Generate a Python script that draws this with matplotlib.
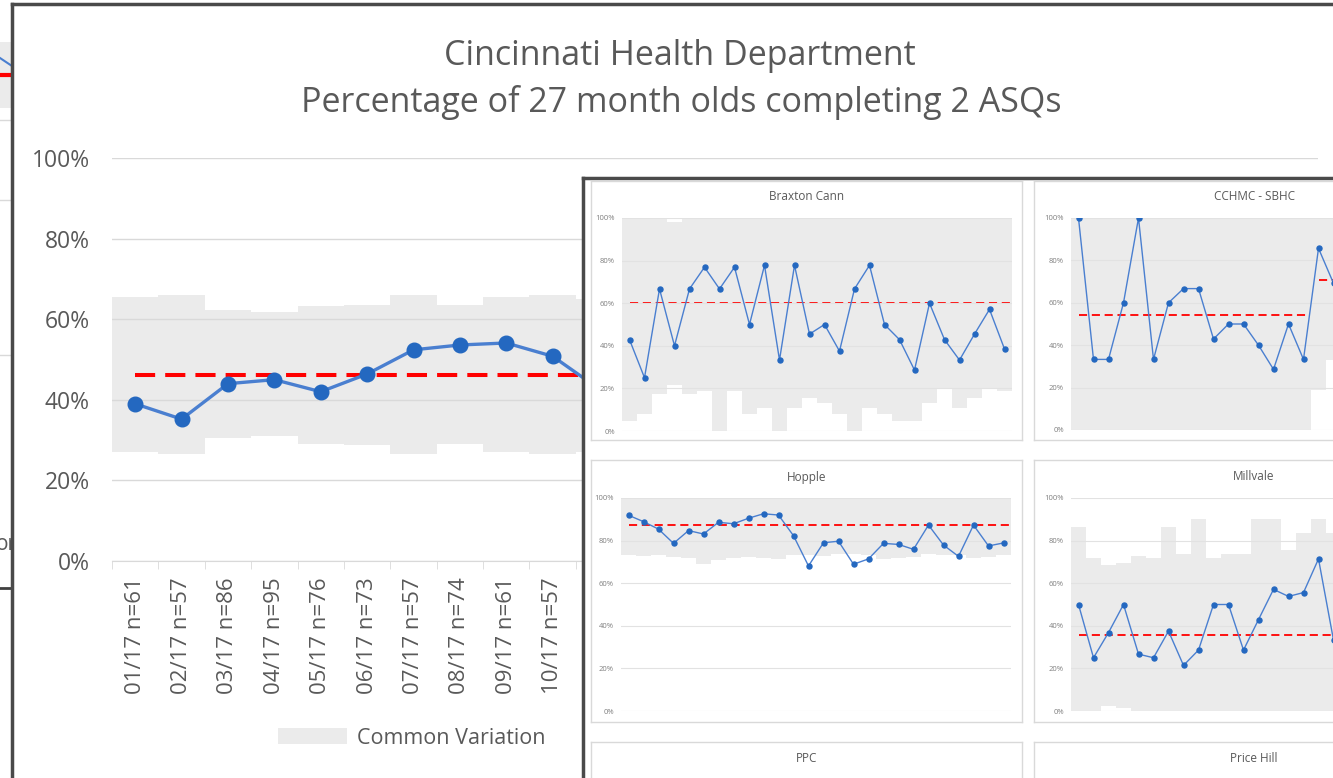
import numpy as np
import matplotlib
matplotlib.use('Agg')
import matplotlib.pyplot as plt
from matplotlib.patches import Rectangle

plt.rcParams['font.family'] = ['Open Sans', 'DejaVu Sans']

W, H = 1333, 778

# ---- main chart (only the part not hidden behind the small multiples)
main_labels = ['01/17 n=61', '02/17 n=57', '03/17 n=86', '04/17 n=95', '05/17 n=76',
               '06/17 n=73', '07/17 n=57', '08/17 n=74', '09/17 n=61', '10/17 n=57']
main_pct = [39.0, 35.2, 44.0, 45.0, 42.0, 46.4, 52.4, 53.6, 54.1, 50.8, 42.7]
main_ucl = [65.4, 65.9, 62.3, 61.8, 63.3, 63.6, 66.0, 63.6, 65.4, 66.0, 65.0]
main_lcl = [27.1, 26.5, 30.5, 31.0, 29.0, 28.7, 26.5, 29.0, 27.1, 26.5, 27.1]
main_center = 46.2
n_months = 26

# ---- small multiples
braxton_pct = [42.9, 25.0, 66.7, 40.0, 66.7, 76.9, 66.7, 76.9, 50.0, 77.8, 33.3, 77.8, 45.5,
               50.0, 37.5, 66.7, 77.8, 50.0, 42.9, 28.6, 60.0, 42.9, 33.3, 45.5, 57.1, 38.5]
braxton_ucl = [100, 100, 100, 98.0, 100, 100, 100, 100, 100, 100, 100, 100, 100,
               100, 100, 100, 100, 100, 100, 100, 100, 99.5, 100, 100, 99.5, 100]
braxton_lcl = [4.7, 8.2, 17.4, 21.8, 17.4, 19.0, 0, 19.0, 8.2, 10.7, 0, 10.7, 15.4,
               13.3, 8.2, 0, 10.7, 8.2, 4.7, 4.7, 13.3, 20.4, 10.7, 15.4, 20.4, 19.0]
braxton_phase_end = [26]
braxton_phase_cl = [60.0]

cchmc_pct = [100, 33.3, 33.3, 60.0, 100, 33.3, 60.0, 66.7, 66.7, 42.9, 50.0, 50.0,
             40.0, 28.6, 50.0, 33.3, 85.7, 69.2]
cchmc_ucl = [100, 100, 100, 100, 100, 100, 100, 100, 100, 100, 100, 100,
             100, 100, 100, 100, 100, 100]
cchmc_lcl = [0, 0, 0, 0, 0, 0, 0, 0, 0, 0, 0, 0, 0, 0, 0, 0, 19.1, 32.9]
cchmc_phase_end = [16, 18]
cchmc_phase_cl = [54.2, 70.9]

hopple_pct = [91.9, 88.9, 85.4, 78.7, 84.7, 83.1, 88.6, 87.9, 90.5, 92.6, 92.0, 82.3, 68.1,
              79.0, 79.7, 68.9, 71.4, 78.7, 78.2, 75.9, 87.3, 77.9, 72.6, 87.3, 77.5, 78.9]
hopple_ucl = [100, 100, 100, 100, 100, 100, 100, 100, 100, 100, 100, 100, 100,
              100, 100, 100, 100, 100, 100, 100, 100, 100, 100, 100, 100, 100]
hopple_lcl = [73.4, 72.6, 73.1, 72.3, 71.8, 69.2, 71.0, 71.8, 72.3, 71.8, 71.4, 73.4, 73.4,
              72.9, 73.9, 73.6, 73.4, 71.4, 71.8, 72.3, 73.9, 73.4, 73.1, 71.8, 72.3, 73.4]
hopple_phase_end = [26]
hopple_phase_cl = [87.5]

millvale_pct = [50.0, 25.0, 36.8, 50.0, 26.7, 25.0, 37.5, 21.4, 28.6, 50.0, 50.0, 28.6,
                42.9, 57.1, 53.8, 55.6, 71.4, 33.3]
millvale_ucl = [86.5, 71.6, 68.6, 69.4, 72.7, 71.6, 86.5, 73.9, 90.1, 71.6, 73.9, 73.9,
                90.1, 90.1, 75.7, 83.7, 90.1, 83.7]
millvale_lcl = [0, 0, 2.4, 1.6, 0, 0, 0, 0, 0, 0, 0, 0, 0, 0, 0, 0, 0, 0]
millvale_phase_end = [18]
millvale_phase_cl = [35.8]

BAND = '#ebebeb'
GRID = '#d9d9d9'
TXT = '#595959'
BLUE_LINE = '#4a7fd0'
BLUE_DOT = '#2468c0'
RED = '#ff0000'


def px_box(x0, y0, x1, y1):
    return [x0 / W, 1 - y1 / H, (x1 - x0) / W, (y1 - y0) / H]


def blank(ax):
    ax.set_xticks([])
    ax.set_yticks([])
    ax.set_xlim(0, 1)
    ax.set_ylim(0, 1)


fig = plt.figure(figsize=(W / 100, H / 100), dpi=100)

# window behind everything (left sliver)
bg = fig.add_axes([0, 0, 1, 1])
blank(bg)
for s in bg.spines.values():
    s.set_visible(False)
bg.add_patch(Rectangle((0, 1 - 108 / H), 12 / W, 66 / H, color=BAND, lw=0))
bg.plot([0, 12 / W], [1 - 58 / H, 1 - 66 / H], color=BLUE_LINE, lw=1.5)
bg.plot([0, 10 / W], [1 - 75 / H, 1 - 75 / H], color=RED, lw=3)
for yy in [120, 200, 355]:
    bg.plot([0, 10 / W], [1 - yy / H, 1 - yy / H], color=GRID, lw=1)
bg.plot([0, 12 / W], [1 - 588 / H, 1 - 588 / H], color='#404040', lw=2)
bg.text(-4 / W, 1 - 545 / H, 'or', fontsize=15, color=TXT, va='center', ha='left')

# main window frame
frame = fig.add_axes(px_box(12, 4, 1345, 790))
blank(frame)
frame.set_facecolor('white')
for k in ['right', 'bottom']:
    frame.spines[k].set_visible(False)
for k in ['left', 'top']:
    frame.spines[k].set_color('#4a4a4a')
    frame.spines[k].set_linewidth(2.5)

fig.text(680 / W, 1 - 56 / H, 'Cincinnati Health Department', fontsize=24.5,
         color=TXT, ha='center', va='center')
fig.text(681 / W, 1 - 102 / H, 'Percentage of 27 month olds completing 2 ASQs',
         fontsize=24.5, color=TXT, ha='center', va='center')

ax = fig.add_axes(px_box(112, 158, 1318, 561))
ax.set_facecolor('none')
x_main = np.arange(len(main_pct))
ax.bar(x_main, np.subtract(main_ucl, main_lcl), bottom=main_lcl, width=1.0,
       color=BAND, lw=0, label='Common Variation', zorder=1)
ax.hlines(main_center, 0, n_months - 1, colors=RED, lw=2.9,
          linestyles=(0, (5, 2.5)), zorder=2)
ax.plot(x_main, main_pct, color=BLUE_LINE, lw=2.4, marker='o', ms=10.5,
        mfc=BLUE_DOT, mec=BLUE_DOT, zorder=3)
ax.set_xlim(-0.5, n_months - 0.5)
ax.set_ylim(0, 100)
ax.set_yticks(np.arange(0, 101, 20))
ax.set_yticklabels([f'{v}%' for v in range(0, 101, 20)])
ax.set_axisbelow(False)
ax.yaxis.grid(True, color=GRID, lw=1)
ax.set_xticks(np.arange(len(main_labels)))
ax.set_xticklabels(main_labels, rotation=90)
ax.set_xticks(np.arange(-0.5, n_months, 1), minor=True)
ax.tick_params(axis='y', length=0, pad=16, labelsize=16.5, labelcolor=TXT)
ax.tick_params(axis='x', which='major', length=0, pad=12, labelsize=16, labelcolor=TXT)
ax.tick_params(axis='x', which='minor', length=6, color=GRID)
for k in ['left', 'right', 'top']:
    ax.spines[k].set_visible(False)
ax.spines['bottom'].set_color(GRID)
ax.legend(loc='center', bbox_to_anchor=(412 / W, 1 - 738 / H),
          bbox_transform=fig.transFigure, frameon=False, fontsize=15.5,
          handlelength=3.2, handleheight=0.8, handletextpad=0.45, labelcolor=TXT)

# overlay with the small multiples
ov = fig.add_axes(px_box(583, 178, 1345, 790))
blank(ov)
ov.set_facecolor('white')
for k in ['right', 'bottom']:
    ov.spines[k].set_visible(False)
for k in ['left', 'top']:
    ov.spines[k].set_color('#4a4a4a')
    ov.spines[k].set_linewidth(2.5)


def panel(box, plot, title, title_y, pct=None, ucl=None, lcl=None,
          phase_end=None, phase_cl=None):
    pb = fig.add_axes(px_box(*box))
    blank(pb)
    pb.set_facecolor('white')
    for s in pb.spines.values():
        s.set_color(GRID)
        s.set_linewidth(1)
    fig.text((box[0] + box[2]) / 2 / W, 1 - title_y / H, title, fontsize=8.5,
             color=TXT, ha='center', va='center')
    if pct is None:
        return
    pa = fig.add_axes(px_box(*plot))
    pa.set_facecolor('none')
    xs = np.arange(len(pct))
    pa.bar(xs, np.subtract(ucl, lcl), bottom=lcl, width=1.0, color=BAND, lw=0, zorder=1)
    start = 0
    for end, cl in zip(phase_end, phase_cl):
        pa.hlines(cl, start, end - 1 + 0.4, colors=RED, lw=1.3,
                  linestyles=(0, (4.5, 2.6)), zorder=2)
        start = end
    pa.plot(xs, pct, color=BLUE_LINE, lw=1.0, marker='o', ms=3.6,
            mfc=BLUE_DOT, mec=BLUE_DOT, zorder=3)
    pa.set_xlim(-0.5, n_months - 0.5)
    pa.set_ylim(0, 100)
    pa.set_yticks(np.arange(0, 101, 20))
    pa.set_yticklabels([f'{v}%' for v in range(0, 101, 20)])
    pa.set_xticks([])
    pa.set_axisbelow(False)
    pa.yaxis.grid(True, color='#e2e2e2', lw=0.8)
    pa.tick_params(axis='y', length=0, pad=5, labelsize=5.5, labelcolor='#7f7f7f')
    for s in pa.spines.values():
        s.set_visible(False)


panel((591, 181, 1022, 440), (622, 218, 1012, 431), 'Braxton Cann', 197,
      braxton_pct, braxton_ucl, braxton_lcl, braxton_phase_end, braxton_phase_cl)
panel((1034, 181, 1474, 440), (1071, 218, 1461, 430), 'CCHMC - SBHC', 197,
      cchmc_pct, cchmc_ucl, cchmc_lcl, cchmc_phase_end, cchmc_phase_cl)
panel((591, 460, 1022, 722), (621, 498, 1011, 711), 'Hopple', 477,
      hopple_pct, hopple_ucl, hopple_lcl, hopple_phase_end, hopple_phase_cl)
panel((1034, 460, 1474, 722), (1071, 498, 1461, 711), 'Millvale', 477,
      millvale_pct, millvale_ucl, millvale_lcl, millvale_phase_end, millvale_phase_cl)
panel((591, 742, 1022, 800), None, 'PPC', 759)
panel((1034, 742, 1474, 800), None, 'Price Hill', 759)

fig.savefig('out.png', dpi=100)
